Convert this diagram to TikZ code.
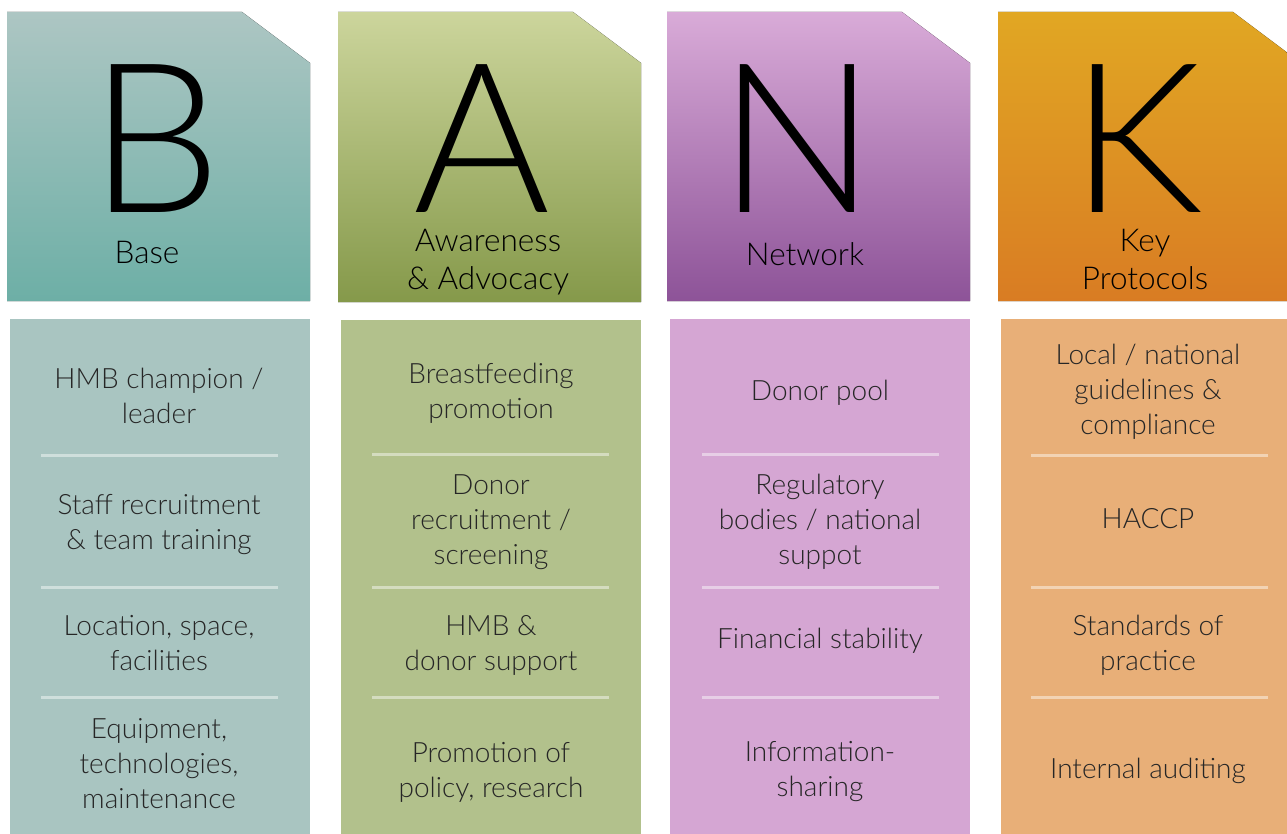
\documentclass[tikz,border=0pt]{standalone}
\usepackage{fontspec}
\setmainfont{Lato Light}
\usetikzlibrary{positioning}
\definecolor{baseTop}{HTML}{ADC6C3}
\definecolor{baseBot}{HTML}{6DAFA6}
\definecolor{baseBody}{HTML}{A9C5C1}
\definecolor{awarTop}{HTML}{CCD59C}
\definecolor{awarBot}{HTML}{85994A}
\definecolor{awarBody}{HTML}{B2C18C}
\definecolor{netTop}{HTML}{D9ABD8}
\definecolor{netBot}{HTML}{8D5398}
\definecolor{netBody}{HTML}{D5A6D3}
\definecolor{keyTop}{HTML}{E1A723}
\definecolor{keyBot}{HTML}{D97C23}
\definecolor{keyBody}{HTML}{E8AF78}
\tikzset{
    letter/.style={
        anchor=base,
        inner sep=0pt,
        font=\fontsize{209}{209}\selectfont
    },
    title/.style={
        anchor=north,
        align=center,
        inner sep=0pt,
        font=\fontsize{31.5}{38}\selectfont
    },
    item/.style={
        anchor=north,
        align=center,
        inner sep=0pt,
        text=black!85,
        font=\fontsize{28}{35}\selectfont
    },
    sepline/.style={
        white,
        opacity=0.45,
        line width=3pt
    }
}

\begin{document}
\begin{tikzpicture}[x=1pt,y=-1pt]
  \useasboundingbox (0,0) rectangle (1287,834);
  \clip (0,0) rectangle (1287,834);

  % header tiles
  \fill[top color=baseTop,bottom color=baseBot] (7,12) -- (242,12) -- (310,63) -- (310,301) -- (7,301) -- cycle;
  \fill[top color=awarTop,bottom color=awarBot] (338,12) -- (573,12) -- (641,63) -- (641,302) -- (338,302) -- cycle;
  \fill[top color=netTop,bottom color=netBot] (667,12) -- (902,12) -- (970,63) -- (970,301) -- (667,301) -- cycle;
  \fill[top color=keyTop,bottom color=keyBot] (998,12) -- (1233,12) -- (1301,63) -- (1301,301) -- (998,301) -- cycle;

  % body tiles
  \fill[baseBody] (10,319) rectangle (310,834);
  \fill[awarBody] (341,320) rectangle (641,834);
  \fill[netBody] (670,319) rectangle (970,834);
  \fill[keyBody] (1001,319) rectangle (1301,834);

  \node at (156,213) (B) [letter] {B};
  \node at (147,241) (Bt) [title] {Base};
  \node at (482,213) (A) [letter] {A};
  \node at (488,229) (At) [title] {Awareness\\\& Advocacy};
  \node at (797,213) (N) [letter] {N};
  \node at (805,242) (Nt) [title] {Network};
  \node at (1137,213) (K) [letter] {K};
  \node at (1145,229) (Kt) [title] {Key\\Protocols};

  % Base
  \node at (159,368) (B1) [item] {HMB champion /\\leader};
  \node at (159,494) (B2) [item] {Staff recruitment\\\& team training};
  \node at (159,615) (B3) [item] {Location, space,\\facilities};
  \node at (159,718) (B4) [item] {Equipment,\\technologies,\\maintenance};
  \draw[sepline] (41,455) -- (278,455);
  \draw[sepline] (41,587) -- (278,587);
  \draw[sepline] (41,697) -- (278,697);

  % Awareness & Advocacy
  \node at (491,363) (A1) [item] {Breastfeeding\\promotion};
  \node at (491,474) (A2) [item] {Donor\\recruitment /\\screening};
  \node at (491,615) (A3) [item] {HMB \&\\donor support};
  \node at (491,742) (A4) [item] {Promotion of\\policy, research};
  \draw[sepline] (372,454) -- (609,454);
  \draw[sepline] (372,587) -- (609,587);
  \draw[sepline] (372,697) -- (609,697);

  % Network
  \node at (820,380) (N1) [item] {Donor pool};
  \node at (820,474) (N2) [item] {Regulatory\\bodies / national\\suppot};
  \node at (820,628) (N3) [item] {Financial stability};
  \node at (820,741) (N4) [item] {Information-\\sharing};
  \draw[sepline] (702,454) -- (939,454);
  \draw[sepline] (702,587) -- (939,587);
  \draw[sepline] (702,697) -- (939,697);

  % Key Protocols
  \node at (1148,344) (K1) [item] {Local / national\\guidelines \&\\compliance};
  \node at (1148,508) (K2) [item] {HACCP};
  \node at (1148,615) (K3) [item] {Standards of\\practice};
  \node at (1148,758) (K4) [item] {Internal auditing};
  \draw[sepline] (1031,455) -- (1268,455);
  \draw[sepline] (1031,587) -- (1268,587);
  \draw[sepline] (1031,697) -- (1268,697);

\end{tikzpicture}
\end{document}
